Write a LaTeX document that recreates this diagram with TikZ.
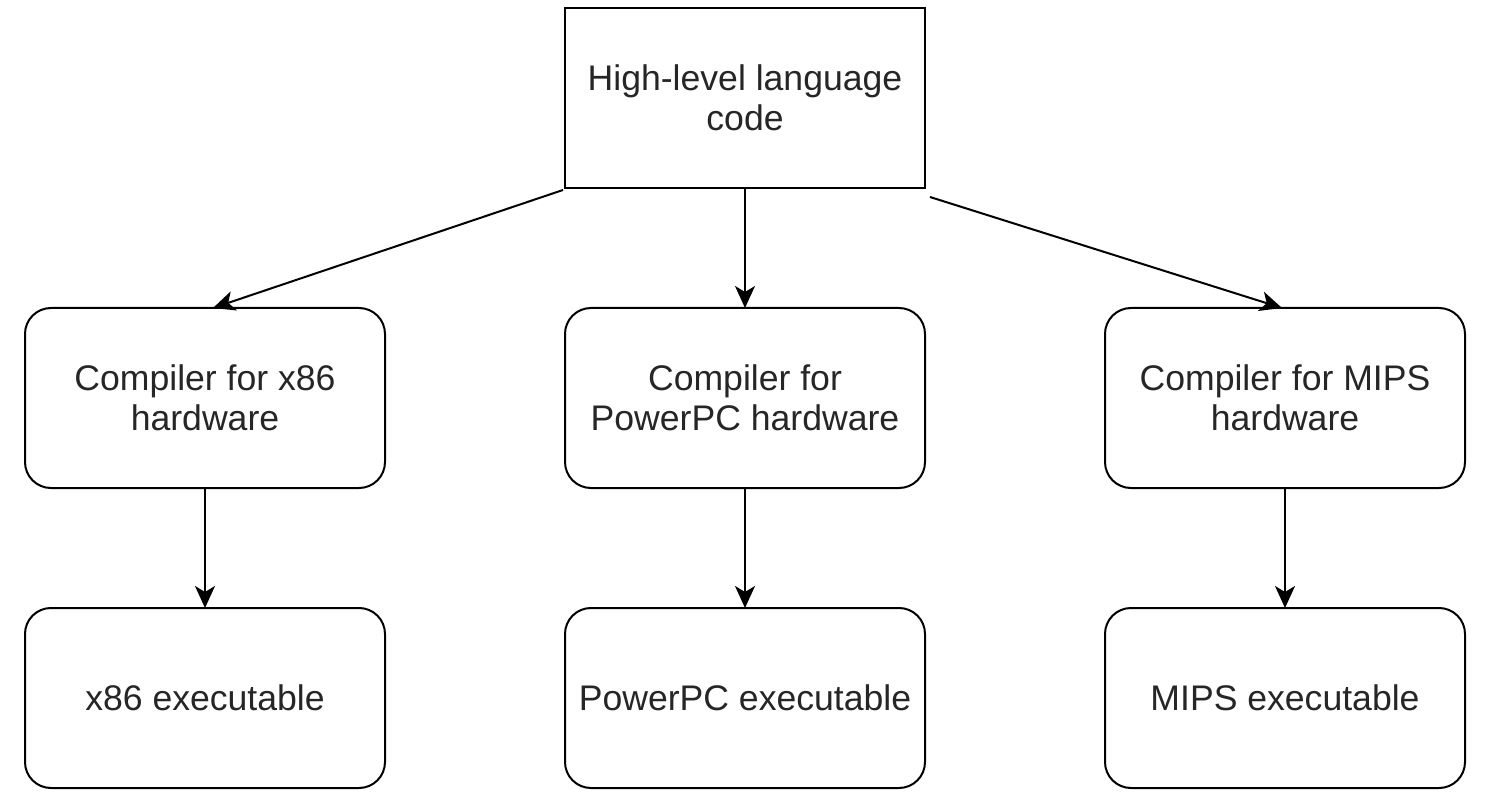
\documentclass[tikz,border=0pt]{standalone}
\usepackage{fontspec}
\setmainfont{Liberation Sans}
\usetikzlibrary{arrows.meta,calc}
\tikzset{
  boxbase/.style={draw=black, line width=1pt, minimum width=180pt, minimum height=90pt,
    align=center, inner sep=0pt, outer sep=0pt, text=black!85,
    font=\fontsize{17.8}{20}\selectfont},
  sqbox/.style={boxbase},
  rbox/.style={boxbase, rounded corners=13pt},
  arr/.style={-{Stealth[length=11pt,width=10pt,inset=3pt]}, line width=1pt, black}
}
\begin{document}
\begin{tikzpicture}[x=0.5pt,y=-0.5pt]
\useasboundingbox (0,0) rectangle (1488,796);
\node[sqbox] (top) at (745,98) {High-level language\\code};
\node[rbox] (c1) at (205,398) {Compiler for x86\\hardware};
\node[rbox] (c2) at (745,398) {Compiler for\\PowerPC hardware};
\node[rbox] (c3) at (1285,398) {Compiler for MIPS\\hardware};
\node[rbox] (e1) at (205,698) {x86 executable};
\node[rbox] (e2) at (745,698) {PowerPC executable};
\node[rbox] (e3) at (1285,698) {MIPS executable};
\draw[arr] ($(top.south west)+(-2,2)$) -- ($(c1.north)+(8,0)$);
\draw[arr] (top.south) -- (c2.north);
\draw[arr] ($(top.south east)+(5,9)$) -- ($(c3.north)+(-3,0)$);
\draw[arr] (c1.south) -- (e1.north);
\draw[arr] (c2.south) -- (e2.north);
\draw[arr] (c3.south) -- (e3.north);
\end{tikzpicture}
\end{document}
